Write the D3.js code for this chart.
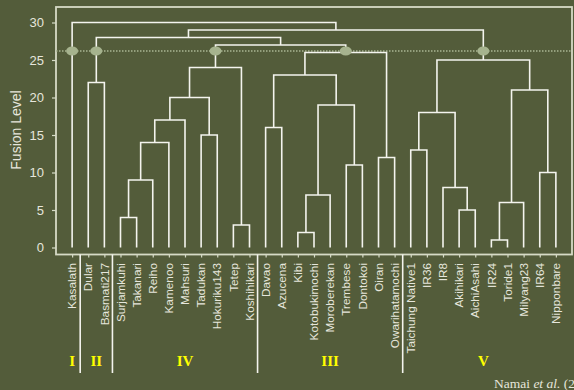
<!DOCTYPE html>
<html>
<head>
<meta charset="utf-8">
<script src="https://cdn.jsdelivr.net/npm/d3@7"></script>
<style>
  html, body { margin: 0; padding: 0; background: #535c3a; }
  svg { display: block; }
</style>
</head>
<body>
<svg id="chart" width="574" height="390"></svg>
<script>
// ---- data ----
const leaves = ["Kasalath","Dular","Basmati217","Surjamkuhi","Takanari","Reiho","Kamenoo",
  "Mahsuri","Tadukan","Hokuriku143","Tetep","Koshihikari","Davao","Azucena","Kibi",
  "Kotobukimochi","Moroberekan","Trembese","Dontokoi","Oiran","Owarihatamochi",
  "Taichung Native1","IR36","IR8","Akihikari","AichiAsahi","IR24","Toride1","Milyang23",
  "IR64","Nipponbare"];
// linkage: [clusterA, clusterB, fusion level]; new cluster ids start at leaves.length
const merges = [
  [1,2,22],[3,4,4],[32,5,9],[33,6,14],[34,7,17],[8,9,15],[35,36,20],[10,11,3],[37,38,24],
  [12,13,16],[14,15,2],[41,16,7],[17,18,11],[42,43,19],[40,44,23],[19,20,12],[45,46,26],
  [39,47,27],[31,48,28],[21,22,13],[24,25,5],[23,51,8],[50,52,18],[26,27,1],[54,28,6],
  [29,30,10],[55,56,21],[53,57,25],[49,58,29],[0,59,30]
];
const cutLevel = 26.2;
const yTicks = [0,5,10,15,20,25,30];
const groupNames = ["I","II","IV","III","V"];
const groupFirst = [0,1,3,12,21];
const groupLast  = [0,2,11,20,30];
const credit = ["Namai ", "et al.", " (2005)"];

// ---- layout ----
const W = 574, H = 390;
const L = 56, R = 572, T = 7, B = 254.5;
const svg = d3.select("#chart");
svg.append("rect").attr("width", W).attr("height", H).attr("fill", "#535c3a");

const x = d3.scalePoint().domain(leaves).range([L, R]).padding(1);
const y = d3.scaleLinear().domain([0, 30]).range([247.5, 22.5]);

// build hierarchy from linkage
const nodes = leaves.map(n => ({ name: n, h: 0 }));
merges.forEach(m => nodes.push({ children: [nodes[m[0]], nodes[m[1]]], h: m[2] }));
const root = d3.hierarchy(nodes[nodes.length - 1]);
root.eachAfter(d => {
  d.px = d.children ? (d.children[0].px + d.children[1].px) / 2 : x(d.data.name);
  d.py = y(d.data.h);
});

const lineCol = "#f4f4ee";
// frame
svg.append("rect").attr("x", L).attr("y", T).attr("width", R - L).attr("height", B - T)
  .attr("fill", "none").attr("stroke", "#d6dac6").attr("stroke-width", 1.8);

// y axis
const yAxis = svg.append("g").attr("transform", `translate(${L},0)`)
  .call(d3.axisLeft(y).tickValues(yTicks).tickSize(4).tickPadding(8));
yAxis.select(".domain").remove();
yAxis.selectAll("line").attr("stroke", "#d6dac6").attr("stroke-width", 1.2);
yAxis.selectAll("text").attr("fill", "#e6e6dc").style("font-family", "Liberation Sans, Arial, sans-serif").style("font-size", "13px");

// bottom axis ticks
const xAxis = svg.append("g").attr("transform", `translate(0,${B})`)
  .call(d3.axisBottom(x).tickSize(3).tickFormat(""));
xAxis.select(".domain").remove();
xAxis.selectAll("line").attr("stroke", "#d6dac6").attr("stroke-width", 1.2);

// y title
svg.append("text").attr("transform", "translate(21,130) rotate(-90)")
  .attr("text-anchor", "middle").attr("fill", "#e6e6dc")
  .style("font-family", "Liberation Sans, Arial, sans-serif").style("font-size", "14px")
  .text("Fusion Level");

// dotted cut line
svg.append("line").attr("x1", L).attr("x2", R).attr("y1", y(cutLevel)).attr("y2", y(cutLevel))
  .attr("stroke", "#a9b592").attr("stroke-width", 1.4).attr("stroke-dasharray", "1.5,1.5");

// dendrogram links
svg.append("g").selectAll("path")
  .data(root.descendants().filter(d => d.children))
  .join("path")
  .attr("fill", "none").attr("stroke", lineCol).attr("stroke-width", 1.6)
  .attr("d", d => {
    const [a, b] = d.children;
    return `M${a.px},${a.py}V${d.py}H${b.px}V${b.py}`;
  });

// cut markers
svg.append("g").selectAll("ellipse")
  .data(root.descendants().filter(d => d.parent && d.parent.data.h > cutLevel && d.data.h < cutLevel))
  .join("ellipse")
  .attr("cx", d => d.px).attr("cy", y(cutLevel)).attr("rx", 6).attr("ry", 4.6)
  .attr("fill", "#a6b38e");

// leaf labels
svg.append("g").selectAll("text").data(leaves).join("text")
  .attr("transform", d => `translate(${x(d)},263) rotate(-90)`)
  .attr("text-anchor", "end").attr("dy", "0.35em")
  .attr("fill", "#e6e6dc")
  .style("font-family", "Liberation Sans, Arial, sans-serif").style("font-size", "11.8px")
  .text(d => d);

// group separators and labels
const step = x.step();
const seps = groupFirst.slice(1).map(i => x(leaves[i]) - step / 2);
svg.append("g").selectAll("line").data(seps).join("line")
  .attr("x1", d => d).attr("x2", d => d).attr("y1", B).attr("y2", 373)
  .attr("stroke", lineCol).attr("stroke-width", 1.6);
svg.append("g").selectAll("text").data(groupNames).join("text")
  .attr("x", (d, i) => (x(leaves[groupFirst[i]]) + x(leaves[groupLast[i]])) / 2)
  .attr("y", 366).attr("text-anchor", "middle")
  .attr("fill", "#ffff00").style("font-family", "Liberation Serif, Times New Roman, serif")
  .style("font-weight", "bold").style("font-size", "15px")
  .text(d => d);

// credit
const ct = svg.append("text").attr("x", 494).attr("y", 388).attr("fill", "#e6e6dc")
  .style("font-family", "Liberation Serif, Times New Roman, serif").style("font-size", "13.5px");
ct.selectAll("tspan").data(credit).join("tspan")
  .style("font-style", (d, i) => i === 1 ? "italic" : "normal")
  .text(d => d);
</script>
</body>
</html>
